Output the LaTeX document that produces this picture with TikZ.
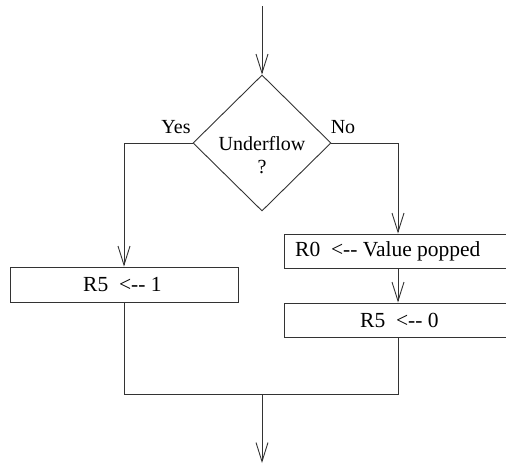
\documentclass[tikz,border=0pt]{standalone}
\usepackage{fontspec}
\setmainfont{Liberation Serif}
\usetikzlibrary{shapes.geometric,arrows.meta}
\begin{document}
\begin{tikzpicture}[x=1pt,y=-1pt,
  ln/.style={draw=black!80,line width=0.9pt},
  arr/.style={ln,-{Straight Barb[length=19pt,width=12pt,line width=0.9pt]}},
  procbox/.style={ln,rectangle,inner sep=0pt},
  lbl/.style={inner sep=0pt,font=\fontsize{20}{23}\selectfont},
  btxt/.style={inner sep=0pt,anchor=west,font=\fontsize{21.5}{24}\selectfont}]
\useasboundingbox (0,0) rectangle (506,464);
\begin{scope}
\clip (0,0) rectangle (506,464);
\coordinate (start) at (262,6);
\node[ln,diamond,minimum width=138pt,minimum height=136pt,inner sep=0pt] (dec) at (262,143) {};
\node[lbl,align=center] (dectxt) at (262,155) {Underflow\\?};
\node[lbl] (yes) at (176,127) {Yes};
\node[lbl] (no) at (343,127) {No};
\node[procbox,minimum width=228pt,minimum height=35pt] (b1) at (124,284.5) {};
\node[btxt] (b1t) at (83,284.5) {R5\hspace{0.5em}<-{}- 1};
\node[procbox,minimum width=228pt,minimum height=34pt] (b2) at (398,251) {};
\node[btxt] (b2t) at (295,251) {R0\hspace{0.5em}<-{}- Value popped};
\node[procbox,minimum width=228pt,minimum height=34pt] (b3) at (398,320) {};
\node[btxt] (b3t) at (360,320) {R5\hspace{0.5em}<-{}- 0};
\coordinate (jl) at (124,394);
\coordinate (jr) at (398,394);
\coordinate (jm) at (262,394);
\coordinate (endp) at (262,463);
\draw[arr] (start) -- (dec.north);
\draw[arr] (dec.west) -| (b1.north);
\draw[arr] (dec.east) -| (b2.north);
\draw[arr] (b2.south) -- (b3.north);
\draw[ln] (b1.south) -- (jl) -- (jr) -- (b3.south);
\draw[arr] (jm) -- (endp);
\end{scope}
\end{tikzpicture}
\end{document}
